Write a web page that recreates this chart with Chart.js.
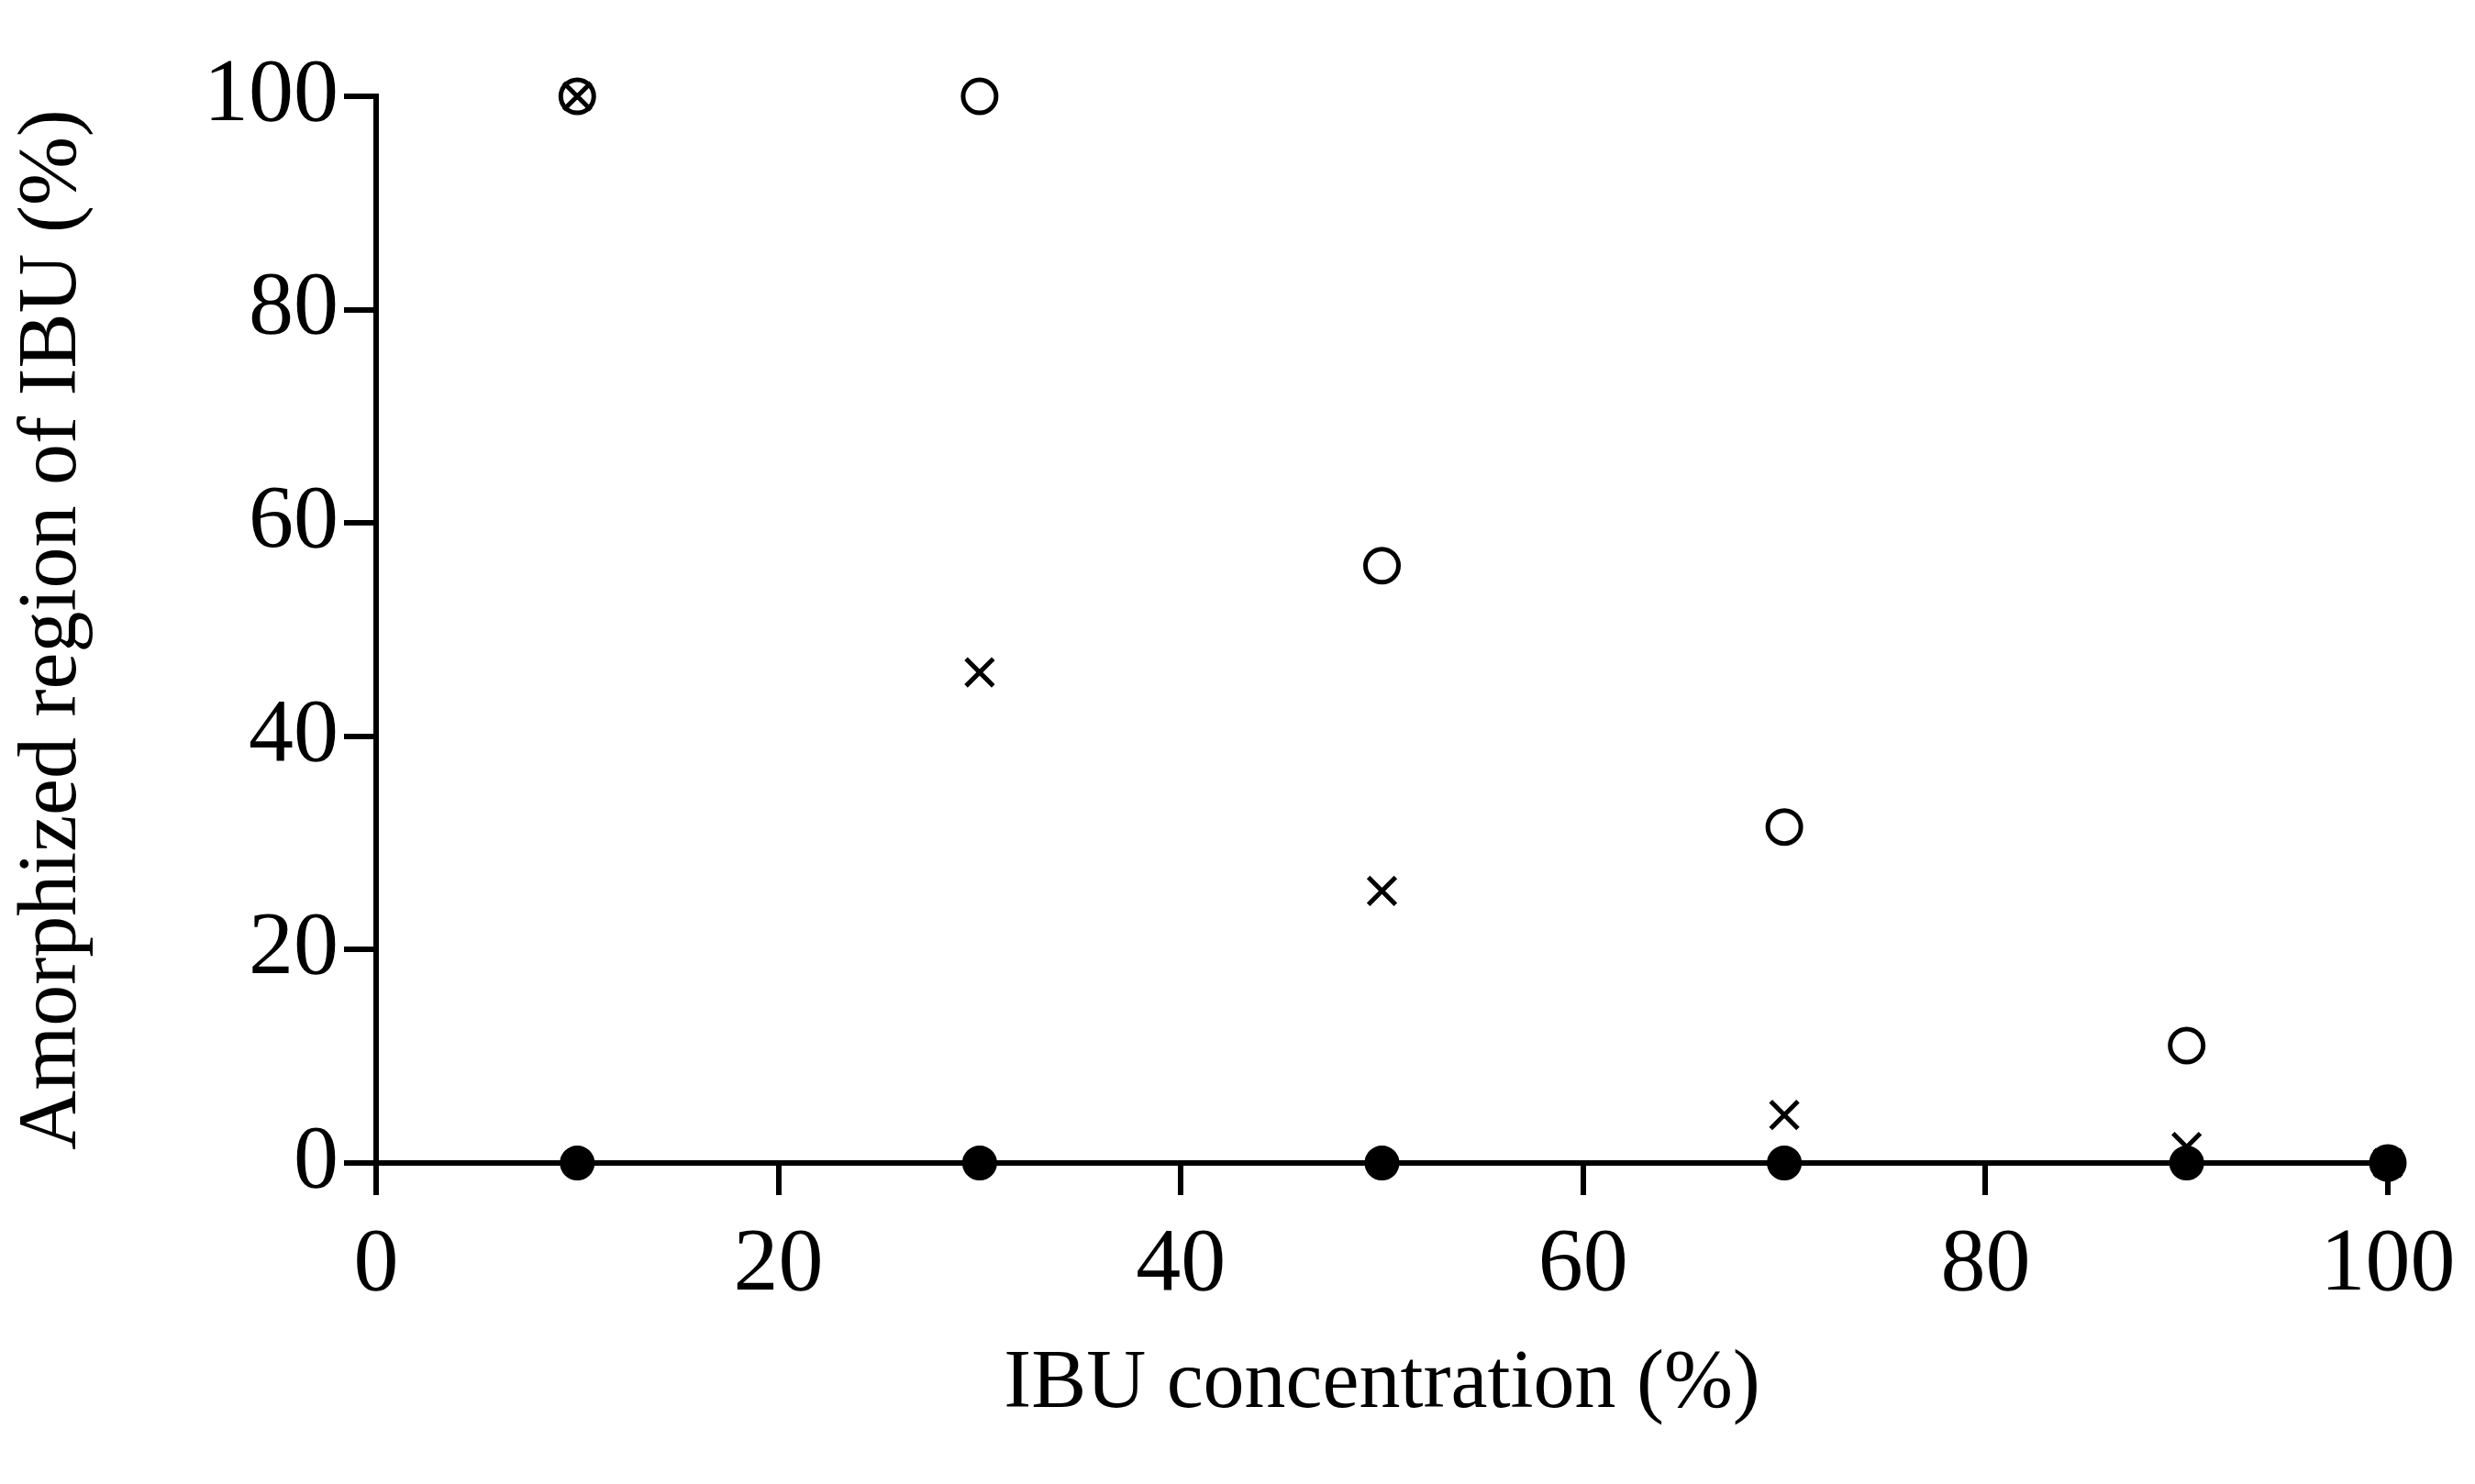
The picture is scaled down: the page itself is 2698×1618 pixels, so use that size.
<!DOCTYPE html>
<html>
<head>
<meta charset="utf-8">
<script src="https://cdn.jsdelivr.net/npm/chart.js@4"></script>
<style>
  body { margin: 0; background: #fff; }
</style>
</head>
<body>
<canvas id="chart" width="2698" height="1618"></canvas>
<script>
const concentrations = [10, 30, 50, 70, 90, 100];
const openCircleValues = [100, 100, 56, 31.5, 11, 0];
const crossValues = [100, 46, 25.5, 4.5, 1.5, 0];
const filledValues = [0, 0, 0, 0, 0, 0];
const tickValues = [0, 20, 40, 60, 80, 100];

const toPoints = values => concentrations.map((x, i) => ({x: x, y: values[i]}));
const tickFont = {family: '"Liberation Serif", "DejaVu Serif", serif', size: 98};
const titleFont = {family: '"Liberation Serif", "DejaVu Serif", serif', size: 90};

// first dataset is drawn last, so filled dots end up on top
new Chart(document.getElementById('chart'), {
    type: 'scatter',
    data: {
        datasets: [
            {data: toPoints(filledValues), pointStyle: 'circle', pointRadius: 18,
             borderColor: '#000', backgroundColor: '#000', borderWidth: 2},
            {data: toPoints(crossValues), pointStyle: 'crossRot', pointRadius: 21,
             borderColor: '#000', borderWidth: 5},
            {data: toPoints(openCircleValues), pointStyle: 'circle', pointRadius: 18,
             borderColor: '#000', backgroundColor: 'rgba(255,255,255,0)', borderWidth: 5}
        ]
    },
    options: {
        responsive: false,
        animation: false,
        clip: false,
        layout: {padding: {top: 105, right: 95, bottom: 50}},
        plugins: {legend: {display: false}, tooltip: {enabled: false}},
        scales: {
            x: {
                min: 0, max: 100,
                afterFit: scale => { scale.height = 300; },
                afterBuildTicks: scale => { scale.ticks = tickValues.map(v => ({value: v})); },
                grid: {drawOnChartArea: false, tickLength: 35, color: '#000', lineWidth: 6},
                border: {color: '#000', width: 6},
                ticks: {color: '#000', font: tickFont, padding: 18},
                title: {display: true, text: 'IBU concentration (%)', color: '#000', font: titleFont, padding: {top: 10}}
            },
            y: {
                min: 0, max: 100,
                afterFit: scale => { scale.width = 410; },
                afterBuildTicks: scale => { scale.ticks = tickValues.map(v => ({value: v})); },
                grid: {drawOnChartArea: false, tickLength: 35, color: '#000', lineWidth: 6},
                border: {color: '#000', width: 6},
                ticks: {color: '#000', font: tickFont, padding: 6},
                title: {display: true, text: 'Amorphized region of IBU (%)', color: '#000', font: titleFont, padding: {bottom: 20}}
            }
        }
    }
});
</script>
</body>
</html>
